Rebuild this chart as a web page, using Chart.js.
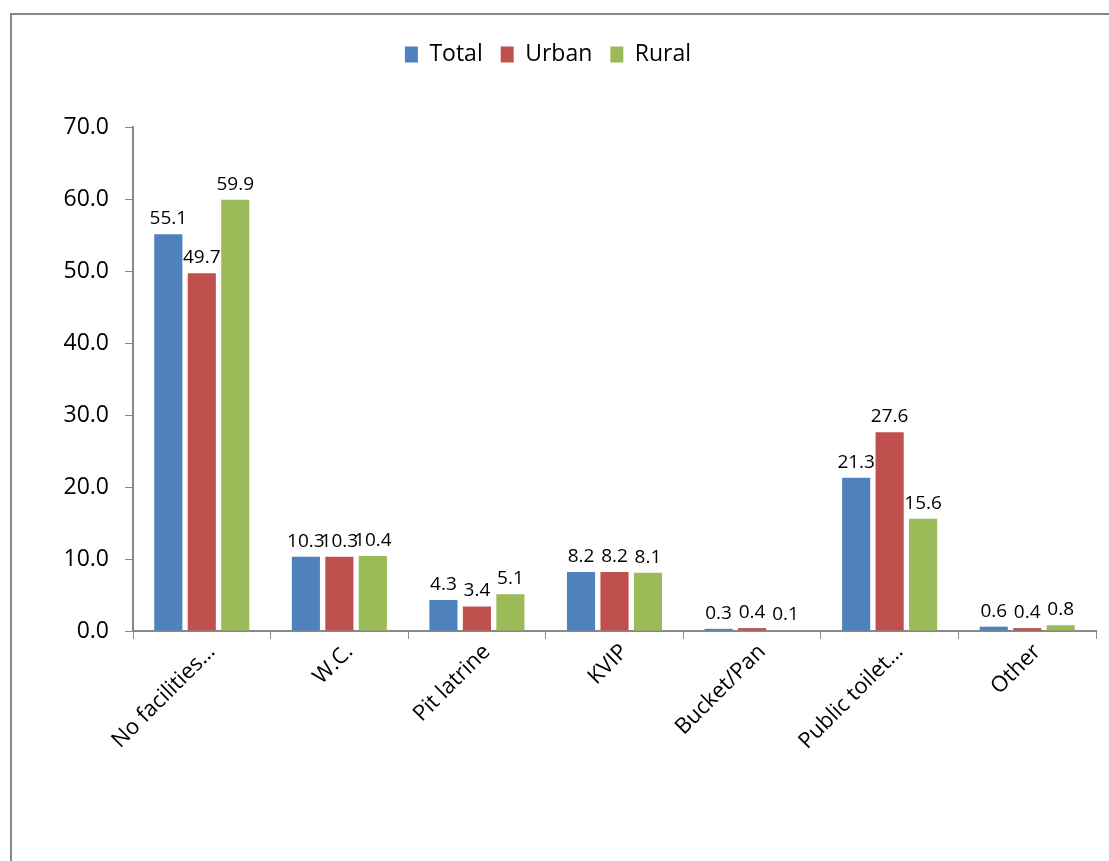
<!DOCTYPE html>
<html>
<head>
<meta charset="utf-8">
<script src="https://cdn.jsdelivr.net/npm/chart.js@4.4.1/dist/chart.umd.min.js"></script>
<style>
html,body{margin:0;padding:0;background:#fff;}
#wrap{position:absolute;left:0;top:0;width:1109px;height:861px;}
</style>
</head>
<body>
<div id="wrap"><canvas id="c" width="1109" height="861"></canvas></div>
<script>
const categories = ["No facilities…", "W.C.", "Pit latrine", "KVIP", "Bucket/Pan", "Public toilet…", "Other"];
const totalValues = [55.1, 10.3, 4.3, 8.2, 0.3, 21.3, 0.6];
const urbanValues = [49.7, 10.3, 3.4, 8.2, 0.4, 27.6, 0.4];
const ruralValues = [59.9, 10.4, 5.1, 8.1, 0.1, 15.6, 0.8];
const yTicks = [0, 10, 20, 30, 40, 50, 60, 70];

const FONT = "'Open Sans', 'Liberation Sans', sans-serif";

const framePlugin = {
  id: 'frame',
  beforeInit(chart) {
    const lg = chart.legend;
    if (lg) {
      const orig = lg.fit;
      lg.fit = function () { orig.call(this); this.height += 51; };
    }
  },
  beforeDraw(chart) {
    const ctx = chart.ctx;
    ctx.save();
    ctx.fillStyle = '#fff';
    ctx.fillRect(0, 0, chart.width, chart.height);
    ctx.strokeStyle = '#878787';
    ctx.lineWidth = 2;
    ctx.strokeRect(11, 14, chart.width + 20, chart.height + 20);
    ctx.restore();
  }
};

const labelPlugin = {
  id: 'valueLabels',
  afterDatasetsDraw(chart) {
    const ctx = chart.ctx;
    ctx.save();
    ctx.font = "19px " + FONT;
    ctx.fillStyle = '#000';
    ctx.textAlign = 'center';
    ctx.textBaseline = 'bottom';
    chart.data.datasets.forEach((ds, i) => {
      const meta = chart.getDatasetMeta(i);
      meta.data.forEach((bar, j) => {
        ctx.fillText(ds.data[j].toFixed(1), bar.x, bar.y - 6);
      });
    });
    ctx.restore();
  }
};

new Chart(document.getElementById('c'), {
  type: 'bar',
  data: {
    labels: categories,
    datasets: [
      { label: 'Total', data: totalValues, backgroundColor: '#4F81BD' },
      { label: 'Urban', data: urbanValues, backgroundColor: '#C0504D' },
      { label: 'Rural', data: ruralValues, backgroundColor: '#9BBB59' }
    ]
  },
  options: {
    responsive: false,
    animation: false,
    devicePixelRatio: 1,
    layout: { padding: { top: 25, right: 13, left: 0, bottom: 0 } },
    datasets: { bar: { categoryPercentage: 0.73, barPercentage: 0.84 } },
    plugins: {
      tooltip: { enabled: false },
      legend: {
        position: 'top',
        labels: {
          boxWidth: 13, boxHeight: 16, padding: 18,
          color: '#000',
          font: { family: FONT, size: 23 }
        }
      }
    },
    scales: {
      x: {
        grid: { drawOnChartArea: false, drawTicks: true, tickLength: 8, color: '#888', offset: true },
        border: { color: '#888', width: 2 },
        ticks: { color: '#000', font: { family: FONT, size: 22 }, maxRotation: 45, minRotation: 45, autoSkip: false, padding: 0, labelOffset: 10 },
        afterFit(s) { s.height = 230; }
      },
      y: {
        min: 0, max: 70,
        afterBuildTicks(s) { s.ticks = yTicks.map(v => ({ value: v })); },
        grid: { drawOnChartArea: false, drawTicks: true, tickLength: 8, color: '#888' },
        border: { color: '#888', width: 2 },
        ticks: { color: '#000', font: { family: FONT, size: 23 }, padding: 16, callback: v => Number(v).toFixed(1) },
        afterFit(s) { s.width = 133; }
      }
    }
  },
  plugins: [framePlugin, labelPlugin]
});
</script>
</body>
</html>
